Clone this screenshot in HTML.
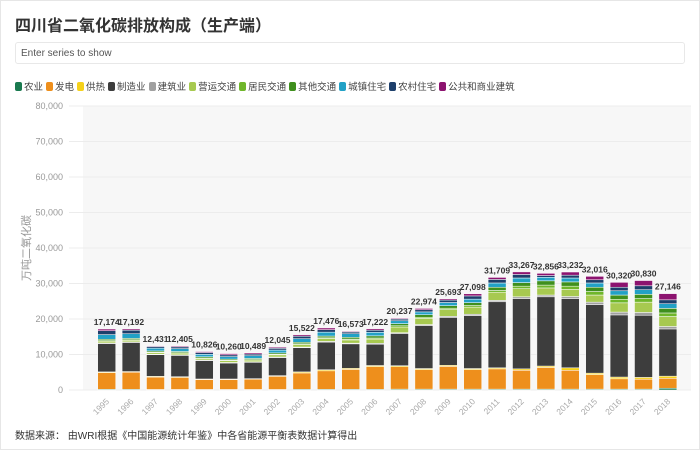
<!DOCTYPE html>
<html><head><meta charset="utf-8"><style>
body{margin:0;background:#fff;font-family:"Liberation Sans","Noto Sans CJK SC",sans-serif;}
#card{position:absolute;left:0;top:0;width:698px;height:448px;border:1px solid #e6e6e6;}
#title{position:absolute;left:14px;top:11px;font-size:16px;font-weight:bold;color:#333;}
#search{position:absolute;left:14px;top:41px;width:670px;height:22px;border:1px solid #e8e8e8;border-radius:3px;font-size:10px;color:#555;line-height:22px;padding-left:5px;box-sizing:border-box;}
#legend{position:absolute;left:14px;top:78px;font-size:9.5px;color:#444;white-space:nowrap;}
.li{display:inline-block;margin-right:3px;}
.sw{display:inline-block;width:7px;height:9px;border-radius:2px;margin-right:2px;vertical-align:-1px;}
#footer{position:absolute;left:14px;top:426px;font-size:10px;color:#333;}
</style></head><body>
<div id="card">
<div id="title">四川省二氧化碳排放构成（生产端）</div>
<div id="search">Enter series to show</div>
<div id="legend"></div>
<svg id="chart" width="700" height="420" style="position:absolute;left:0;top:0"></svg>
<div id="footer">数据来源： 由WRI根据《中国能源统计年鉴》中各省能源平衡表数据计算得出</div>
</div>
<script>
const years=[1995,1996,1997,1998,1999,2000,2001,2002,2003,2004,2005,2006,2007,2008,2009,2010,2011,2012,2013,2014,2015,2016,2017,2018];
const totals=[17174,17192,12431,12405,10826,10260,10489,12045,15522,17476,16573,17222,20237,22974,25693,27098,31709,33267,32856,33232,32016,30320,30830,27146];
const seriesNames=["农业","发电","供热","制造业","建筑业","营运交通","居民交通","其他交通","城镇住宅","农村住宅","公共和商业建筑"];
const colors=["#1a7a4f","#ee8f1c","#f5d11a","#3d3d3d","#a0a0a0","#a7c950","#6fb62a","#3f8f1d","#22a1c6","#1d3f6b","#8c136f"];
const agri=[200,200,150,150,150,150,150,150,200,200,200,200,250,250,250,250,250,250,250,250,250,250,250,500];
const power=[4700,4800,3500,3400,2800,2800,2900,3700,4600,5200,5600,6400,6300,5500,6400,5500,5700,5300,6100,5300,4100,2900,2800,2800];
const heat=[200,200,200,200,150,150,150,200,300,300,300,300,300,300,300,300,300,400,400,700,400,500,500,600];
const mfg=[8000,8200,6100,6000,5200,4500,4600,5100,6800,7800,6900,6000,9000,12100,13500,14900,18600,19800,19500,19500,19300,17500,17500,13300];
const constr=[150,150,150,150,150,150,150,150,200,200,200,250,300,300,300,400,400,500,500,600,700,800,800,700];
const freight=[500,450,450,500,450,500,500,600,700,800,900,1200,1600,1700,1900,2000,2300,2300,2000,2000,2000,2600,2900,2800];
const resid=[150,150,100,100,100,100,100,150,200,200,250,300,350,350,400,450,500,700,800,900,1000,1000,1000,1000];
const other=[400,400,350,350,350,350,350,400,450,500,500,600,600,700,700,800,900,1000,1200,1200,1200,1200,1200,1300];
const urban=[1300,1300,800,800,700,700,750,800,1000,1100,1000,1000,800,800,900,1000,1200,1300,1000,1100,1200,1200,1300,1300];
const rural=[1100,1000,450,500,500,500,500,500,700,700,500,600,500,600,700,900,1000,1000,500,800,900,1000,1100,1100];
const publicB=[474,342,181,255,276,360,339,295,372,476,223,372,237,374,343,598,559,717,606,882,966,1370,1480,1746];
const series=[agri,power,heat,mfg,constr,freight,resid,other,urban,rural,publicB];
const yTicks=[0,10000,20000,30000,40000,50000,60000,70000,80000];

const NS="http://www.w3.org/2000/svg";
const svg=document.getElementById('chart');
const y0=389,yTop=105,yMax=80000;
const y=v=>y0-(v/yMax)*(y0-yTop);
const x=i=>105.7+i*24.4;
const bw=18;
function mk(t,a){const e=document.createElementNS(NS,t);for(const k in a)e.setAttribute(k,a[k]);return e;}
const bg=mk('rect',{x:82,y:yTop,width:608,height:y0-yTop,fill:'#f7f7f7'});


svg.appendChild(bg);
yTicks.forEach(t=>{
  const l=mk('line',{x1:68,x2:690,y1:y(t),y2:y(t),stroke:'#ececec','stroke-width':1});
  
  
  svg.appendChild(l);
  const tx=mk('text',{x:62,y:y(t)+3,'text-anchor':'end','font-size':9,fill:'#999'});
  tx.textContent=t.toLocaleString('en-US');
  
  
  svg.appendChild(tx);
});
const yt=mk('text',{x:0,y:0,transform:'translate(29,247) rotate(-90)','text-anchor':'middle','font-size':11,fill:'#999'});
yt.textContent='万吨二氧化碳';


svg.appendChild(yt);
years.forEach((yr,i)=>{
  let acc=0;
  series.forEach((s,k)=>{
    const v=s[i];
    const r=mk('rect',{x:x(i)-bw/2,y:y(acc+v),width:bw,height:Math.max(0,y(acc)-y(acc+v)),fill:colors[k],stroke:'#fff','stroke-width':0.5});
    
    
    svg.appendChild(r);
    acc+=v;
  });
  const lb=mk('text',{x:x(i),y:y(totals[i])-4,'text-anchor':'middle','font-size':8.5,'font-weight':'bold',fill:'#333'});
  lb.textContent=totals[i].toLocaleString('en-US');
  
  
  svg.appendChild(lb);
  const xl=mk('text',{x:0,y:0,transform:`translate(${x(i)+3},${y0+12}) rotate(-45)`,'text-anchor':'end','font-size':8.5,fill:'#aaa'});
  xl.textContent=yr;
  
  
  svg.appendChild(xl);
});
const lg=document.getElementById('legend');
seriesNames.forEach((n,k)=>{
  const s=document.createElement('span');
  s.className='li';
  
  
  s.innerHTML=`<span class="sw" style="background:${colors[k]}"></span>${n}`;
  lg.appendChild(s);
});
</script>
</body></html>
